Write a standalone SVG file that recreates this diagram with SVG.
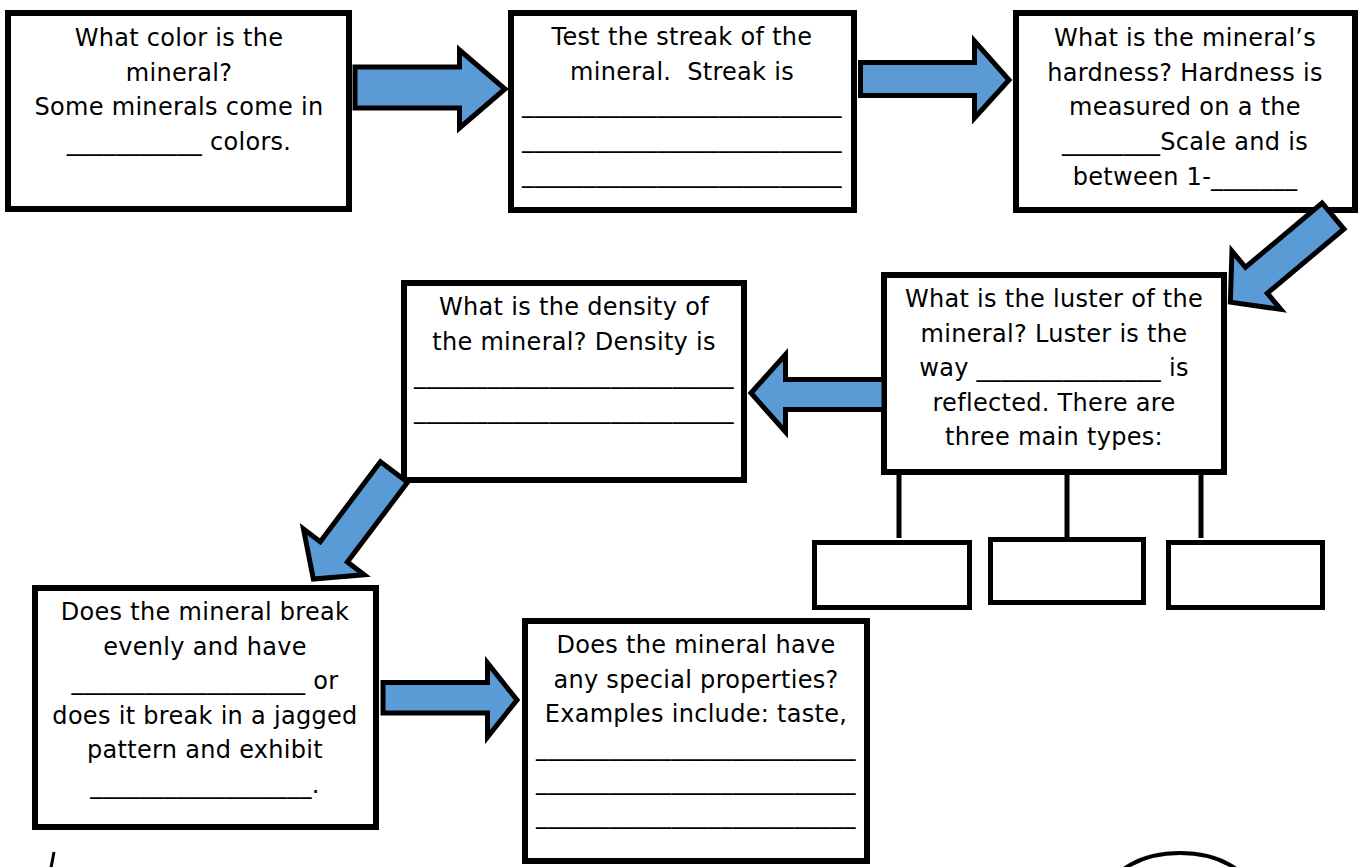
<svg xmlns="http://www.w3.org/2000/svg" width="1364" height="867" viewBox="0 0 1364 867">
<style>
.box{fill:#fff;stroke:#000;stroke-width:6}
.sbox{fill:#fff;stroke:#000;stroke-width:5}
.arr{fill:#5B9BD5;stroke:#000;stroke-width:5;stroke-linejoin:miter}
.lnk{stroke:#000;stroke-width:5;fill:none}
.t{font-family:"DejaVu Sans",sans-serif;font-size:24px;letter-spacing:0.3px;text-anchor:middle;fill:#000;white-space:pre}
</style>
<defs>
<polygon id="diag" points="0,-17 100,-17 100,-38 134,0 100,38 100,17 0,17"/>
</defs>
<rect width="1364" height="867" fill="#fff"/>

<g id="color">
<rect class="box" x="8" y="13" width="341" height="196"/>
<text class="t" x="179" y="46">What color is the</text>
<text class="t" x="179" y="80.5">mineral?</text>
<text class="t" x="179" y="115">Some minerals come in</text>
<text class="t" x="179" y="149.5">___________ colors.</text>
</g>

<g id="streak">
<rect class="box" x="511" y="13" width="343" height="197"/>
<text class="t" x="682" y="44.5">Test the streak of the</text>
<text class="t" x="682" y="79.5">mineral.  Streak is</text>
<text class="t" x="682" y="112">__________________________</text>
<text class="t" x="682" y="147">__________________________</text>
<text class="t" x="682" y="182">__________________________</text>
</g>

<g id="hardness">
<rect class="box" x="1016" y="13" width="339" height="197"/>
<text class="t" x="1185" y="46">What is the mineral’s</text>
<text class="t" x="1185" y="81">hardness? Hardness is</text>
<text class="t" x="1185" y="115">measured on a the</text>
<text class="t" x="1185" y="150">________Scale and is</text>
<text class="t" x="1185" y="185">between 1-_______</text>
</g>

<g id="luster">
<rect class="box" x="884" y="275" width="340" height="197"/>
<text class="t" x="1054" y="307">What is the luster of the</text>
<text class="t" x="1054" y="342">mineral? Luster is the</text>
<text class="t" x="1054" y="376">way _______________ is</text>
<text class="t" x="1054" y="411">reflected. There are</text>
<text class="t" x="1054" y="445">three main types:</text>
</g>

<g id="type1"><rect class="sbox" x="814.5" y="542.5" width="155" height="65"/></g>
<g id="type2"><rect class="sbox" x="990.5" y="539.5" width="153" height="63"/></g>
<g id="type3"><rect class="sbox" x="1168.5" y="542.5" width="154" height="65"/></g>

<g id="density">
<rect class="box" x="404" y="283" width="340" height="197"/>
<text class="t" x="574" y="314.5">What is the density of</text>
<text class="t" x="574" y="349.5">the mineral? Density is</text>
<text class="t" x="574" y="383">__________________________</text>
<text class="t" x="574" y="418">__________________________</text>
</g>

<g id="cleavage">
<rect class="box" x="35" y="588" width="341" height="239"/>
<text class="t" x="205" y="620">Does the mineral break</text>
<text class="t" x="205" y="654.5">evenly and have</text>
<text class="t" x="205" y="689">___________________ or</text>
<text class="t" x="205" y="723.5">does it break in a jagged</text>
<text class="t" x="205" y="758">pattern and exhibit</text>
<text class="t" x="205" y="792.5">__________________.</text>
</g>

<g id="special">
<rect class="box" x="525" y="621" width="342" height="240"/>
<text class="t" x="696" y="653">Does the mineral have</text>
<text class="t" x="696" y="688">any special properties?</text>
<text class="t" x="696" y="722">Examples include: taste,</text>
<text class="t" x="696" y="755">__________________________</text>
<text class="t" x="696" y="789">__________________________</text>
<text class="t" x="696" y="823">__________________________</text>
</g>

<g id="connectors">
<polygon class="arr" points="355,67 459.5,67 459.5,50 505,89 459.5,128 459.5,108 355,108"/>
<polygon class="arr" points="860.5,62.5 974.5,62.5 974.5,41 1009,80 974.5,118 974.5,95.5 860.5,95.5"/>
<use href="#diag" class="arr" transform="translate(1333,216) rotate(140)"/>
<polygon class="arr" points="751,393 785.5,354.5 785.5,379.5 884,379.5 884,409.5 785.5,409.5 785.5,432"/>
<use href="#diag" class="arr" transform="translate(394,472) rotate(127)"/>
<polygon class="arr" points="383,682.5 487.5,682.5 487.5,663 517,700 487.5,737 487.5,713 383,713"/>
<line class="lnk" x1="899" y1="474" x2="899" y2="538"/>
<line class="lnk" x1="1067" y1="474" x2="1067" y2="538"/>
<line class="lnk" x1="1201" y1="474" x2="1201" y2="538"/>
</g>

<g id="fragments">
<line x1="54" y1="852" x2="51" y2="868" stroke="#000" stroke-width="3"/>
<ellipse cx="1180" cy="893" rx="70" ry="40" fill="none" stroke="#000" stroke-width="4"/>
</g>
</svg>
